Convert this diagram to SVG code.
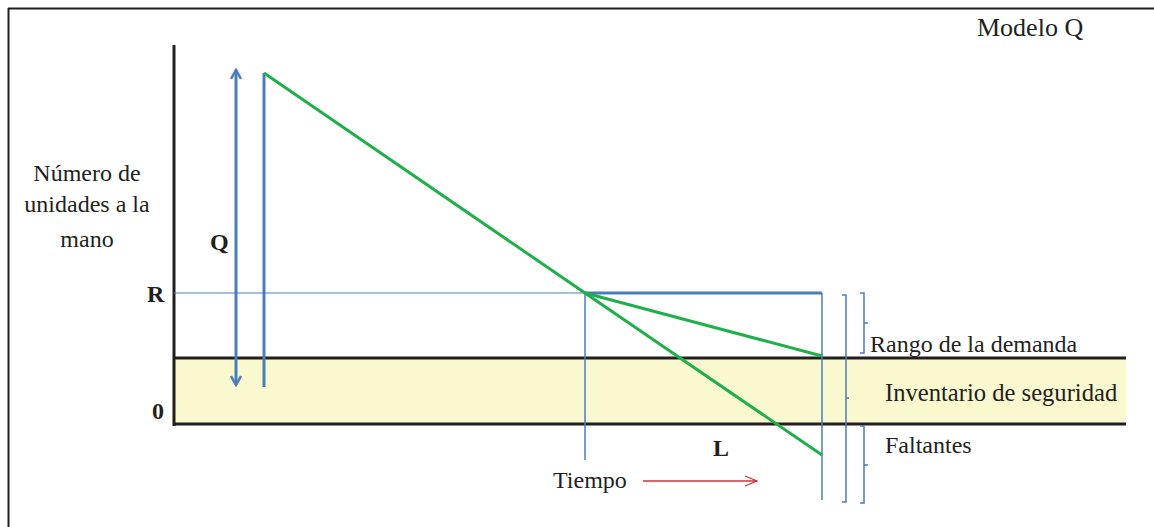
<svg xmlns="http://www.w3.org/2000/svg" width="1154" height="527" viewBox="0 0 1154 527">
<style>
text{font-family:"Liberation Serif","Times New Roman",serif;fill:#231f20;font-size:24px}
.b{font-weight:bold}
.blue{stroke:#4a7ebb;fill:none}
.green{stroke:#1fb04a;stroke-width:3;fill:none}
.blk{stroke:#231f20;fill:none}
</style>
<defs>
<marker id="ah" viewBox="0 0 12 12" refX="10" refY="6" markerWidth="12" markerHeight="12" markerUnits="userSpaceOnUse" orient="auto-start-reverse">
<path d="M1,1 L10,6 L1,11" fill="none" stroke="#4a7ebb" stroke-width="2.5"/>
</marker>
<marker id="rh" viewBox="0 0 14 12" refX="13" refY="6" markerWidth="14" markerHeight="12" markerUnits="userSpaceOnUse" orient="auto">
<path d="M1,1 L13,6 L1,11" fill="none" stroke="#cc3333" stroke-width="1.3"/>
</marker>
</defs>
<rect width="1154" height="527" fill="#fff"/>
<g id="frame">
<line x1="8" y1="8.5" x2="1154" y2="8.5" class="blk" stroke-width="2"/>
<line x1="8.5" y1="8" x2="8.5" y2="527" class="blk" stroke-width="2"/>
</g>
<g id="safety-band">
<rect x="172" y="358" width="954" height="66" fill="#f9f8cf"/>
<line x1="173" y1="358" x2="1126" y2="358" class="blk" stroke-width="3"/>
<line x1="173" y1="424" x2="1126" y2="424" class="blk" stroke-width="3"/>
</g>
<g id="axis">
<line x1="174" y1="45" x2="174" y2="426" class="blk" stroke-width="3"/>
</g>
<g id="connectors">
<line x1="174" y1="293" x2="822" y2="293" class="blue" stroke-width="1.2"/>
<line x1="585" y1="293" x2="822" y2="293" class="blue" stroke-width="3"/>
<line x1="585" y1="293" x2="585" y2="460" class="blue" stroke-width="1.5"/>
<line x1="822" y1="293" x2="822" y2="500" class="blue" stroke-width="1.5"/>
<line x1="264" y1="73" x2="264" y2="387" class="blue" stroke-width="3"/>
<line x1="236" y1="70" x2="236" y2="385" class="blue" stroke-width="3" marker-start="url(#ah)" marker-end="url(#ah)"/>
<polyline points="264,73 585,293 822,455" class="green"/>
<line x1="585" y1="293" x2="822" y2="356" class="green"/>
<line x1="643" y1="481" x2="757" y2="481" stroke="#cc3333" stroke-width="1.3" marker-end="url(#rh)"/>
</g>
<g id="brackets">
<path d="M842,295 H846 V502 H842 M846,398 H849" class="blue" stroke-width="1.5"/>
<path d="M860,293 H864 V353 H860 M864,323 H868" class="blue" stroke-width="1.5"/>
<path d="M860,426 H864 V503 H860 M864,465 H868" class="blue" stroke-width="1.5"/>
</g>
<g id="labels">
<text x="977" y="36" style="font-size:26px">Modelo Q</text>
<text x="87" y="181" text-anchor="middle">Número de</text>
<text x="87" y="212" text-anchor="middle">unidades a la</text>
<text x="87" y="247" text-anchor="middle">mano</text>
<text x="210" y="250" class="b">Q</text>
<text x="147" y="302" class="b">R</text>
<text x="152" y="419" class="b">0</text>
<text x="713" y="456" class="b">L</text>
<text x="553" y="488">Tiempo</text>
<text x="870" y="352">Rango de la demanda</text>
<text x="885" y="401" style="font-size:24.6px">Inventario de seguridad</text>
<text x="885" y="453">Faltantes</text>
</g>
</svg>
